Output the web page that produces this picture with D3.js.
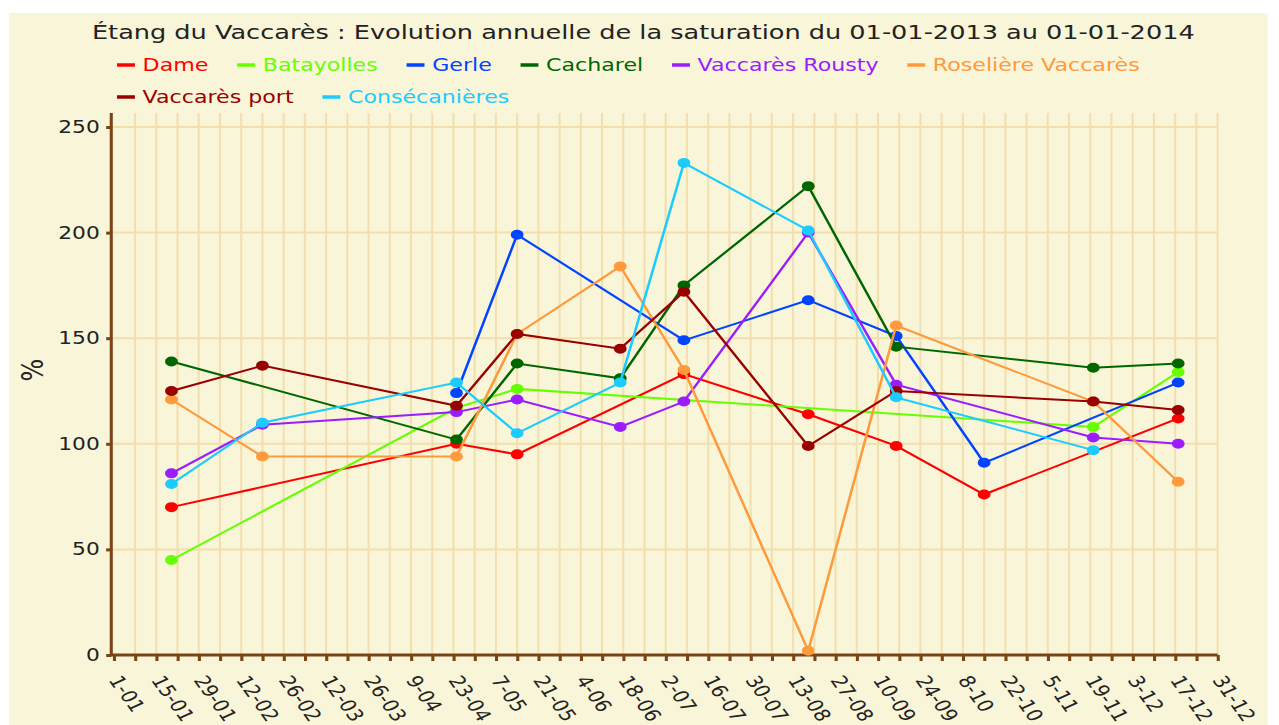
<!DOCTYPE html>
<html>
<head>
<meta charset="utf-8">
<script src="https://cdn.jsdelivr.net/npm/d3@7"></script>
<style>
    html, body { margin: 0; padding: 0; background: #ffffff; }
    svg { display: block; }
    text { font-family: "DejaVu Sans", Verdana, sans-serif; }
</style>
</head>
<body>
<div id="chart"></div>
<script>
'use strict';

// Measurement dates (2013) shared by all stations.
var dates = ['2013-01-20', '2013-02-19', '2013-04-24', '2013-05-14', '2013-06-17', '2013-07-08',
             '2013-08-18', '2013-09-16', '2013-10-15', '2013-11-20', '2013-12-18'];

// Saturation in %, null where a station has no measurement.
var dame          = [70,   null, 100, 95,   null, 133, 114, 99,  76,   null, 112];
var batayolles    = [45,   null, 117, 126,  null, null, null, null, null, 108, 134];
var gerle         = [null, null, 124, 199,  null, 149, 168, 151, 91,   null, 129];
var cacharel      = [139,  null, 102, 138,  131, 175, 222, 146, null, 136, 138];
var rousty        = [86,   109,  115, 121,  108, 120, 200, 128, null, 103, 100];
var roseliere     = [121,  94,   94,  152,  184, 135, 2,   156, null, 120, 82];
var vaccaresPort  = [125,  137,  118, 152,  145, 172, 99,  125, null, 120, 116];
var consecanieres = [81,   110,  129, 105,  129, 233, 201, 122, null, 97,  null];

var seriesNames  = ['Dame', 'Batayolles', 'Gerle', 'Cacharel', 'Vaccarès Rousty', 'Roselière Vaccarès', 'Vaccarès port', 'Consécanières'];
var seriesColors = ['#ff0000', '#66ff00', '#0044ff', '#006600', '#9a1cff', '#ff9a3c', '#990000', '#1ccbff'];
var seriesValues = [dame, batayolles, gerle, cacharel, rousty, roseliere, vaccaresPort, consecanieres];

var yTicks = [0, 50, 100, 150, 200, 250];
var xTickLabels = ['1-01', '15-01', '29-01', '12-02', '26-02', '12-03', '26-03', '9-04', '23-04', '7-05', '21-05',
                   '4-06', '18-06', '2-07', '16-07', '30-07', '13-08', '27-08', '10-09', '24-09', '8-10', '22-10',
                   '5-11', '19-11', '3-12', '17-12', '31-12'];

var title = 'Étang du Vaccarès : Evolution annuelle de la saturation du 01-01-2013 au 01-01-2014';

// The original chart was drawn 1000px wide and stretched to the page width.
var baseWidth = 1000,
    height    = 725,
    pageWidth = 1279,
    margin    = {top: 127, left: 89, right: 952, bottom: 655},
    axisColor = '#7a4416',
    gridColor = '#f3dfae';

var parse = d3.utcParse('%Y-%m-%d');
var start = parse('2013-01-01'),
    end   = parse('2013-12-31');

var svg = d3.select('#chart').append('svg')
    .attr('width', pageWidth)
    .attr('height', height)
    .attr('viewBox', '0 0 ' + baseWidth + ' ' + height)
    .attr('preserveAspectRatio', 'none');

svg.append('rect')
    .attr('x', 7)
    .attr('y', 13)
    .attr('width', 984)
    .attr('height', height - 13)
    .attr('fill', '#f8f5d8');

var x = d3.scaleUtc().domain([start, end]).range([margin.left, margin.right]);
var y = d3.scaleLinear().domain([0, 250]).range([margin.bottom, margin.top]);

var weeks = d3.range(0, 53).map(function (i) {
    return d3.utcDay.offset(start, i * 7);
});

// Grid.
var grid = svg.append('g').attr('class', 'grid');

grid.selectAll('.vgrid')
    .data(weeks.slice(1))
    .enter().append('line')
    .attr('x1', function (d) { return x(d); })
    .attr('x2', function (d) { return x(d); })
    .attr('y1', 113)
    .attr('y2', margin.bottom)
    .attr('stroke', gridColor)
    .attr('stroke-width', 1.6);

grid.selectAll('.hgrid')
    .data(yTicks.slice(1))
    .enter().append('line')
    .attr('x1', margin.left - 2)
    .attr('x2', margin.right)
    .attr('y1', function (d) { return y(d); })
    .attr('y2', function (d) { return y(d); })
    .attr('stroke', gridColor)
    .attr('stroke-width', 2);

// Y axis.
var yAxis = svg.append('g')
    .attr('transform', 'translate(' + (margin.left - 2) + ',0)')
    .call(d3.axisLeft(y).tickValues(yTicks).tickSize(4).tickPadding(5));

yAxis.select('.domain')
    .attr('d', 'M0,113V' + (margin.bottom + 1))
    .attr('stroke', axisColor)
    .attr('stroke-width', 2.4);

yAxis.selectAll('.tick line').attr('stroke', axisColor).attr('stroke-width', 3);
yAxis.selectAll('.tick text')
    .attr('fill', '#222')
    .style('font-size', '17px')
    .style('font-family', '"DejaVu Sans", Verdana, sans-serif');

// X axis.
var xAxis = svg.append('g')
    .attr('transform', 'translate(0,' + margin.bottom + ')')
    .call(d3.axisBottom(x).tickValues(weeks).tickSize(6).tickFormat(function (d, i) {
        return i % 2 === 0 ? xTickLabels[i / 2] : '';
    }));

xAxis.select('.domain')
    .attr('d', 'M' + (margin.left - 3) + ',0H' + margin.right)
    .attr('stroke', axisColor)
    .attr('stroke-width', 3);

xAxis.selectAll('.tick line').attr('stroke', axisColor).attr('stroke-width', 2.4);
xAxis.selectAll('.tick text')
    .attr('fill', '#222')
    .attr('text-anchor', 'start')
    .attr('y', 0)
    .attr('dy', 0)
    .attr('transform', 'translate(-5,25) rotate(60)')
    .style('font-size', '17px')
    .style('font-family', '"DejaVu Sans", Verdana, sans-serif');

svg.append('text')
    .attr('transform', 'translate(25,370) rotate(-90)')
    .attr('text-anchor', 'middle')
    .attr('dominant-baseline', 'central')
    .attr('fill', '#222')
    .style('font-size', '24px')
    .text('%');

// Series: line first, then dots.
var line = d3.line()
    .defined(function (d) { return d.value !== null; })
    .x(function (d) { return x(d.date); })
    .y(function (d) { return y(d.value); });

seriesValues.forEach(function (values, i) {
    var points = values.map(function (v, j) {
        return {date: parse(dates[j]), value: v};
    }).filter(function (d) {
        return d.value !== null;
    });

    var g = svg.append('g').attr('class', 'series');

    g.append('path')
        .datum(points)
        .attr('d', line)
        .attr('fill', 'none')
        .attr('stroke', seriesColors[i])
        .attr('stroke-width', 2);

    g.selectAll('circle')
        .data(points)
        .enter().append('circle')
        .attr('cx', function (d) { return x(d.date); })
        .attr('cy', function (d) { return y(d.value); })
        .attr('r', 5)
        .attr('fill', seriesColors[i]);
});

// Title.
svg.append('text')
    .attr('x', 503)
    .attr('y', 39)
    .attr('text-anchor', 'middle')
    .attr('fill', '#222')
    .style('font-size', '20px')
    .text(title);

// Legend, flowing onto a second row when the width runs out.
var legend = svg.append('g').attr('class', 'legend'),
    lx     = 91.5,
    ly     = 65;

seriesNames.forEach(function (name, i) {
    var item = legend.append('g');

    var label = item.append('text')
        .attr('x', 20)
        .attr('y', 0)
        .attr('dominant-baseline', 'central')
        .attr('fill', seriesColors[i])
        .style('font-size', '17.3px')
        .text(name);

    var w = 20 + label.node().getComputedTextLength();

    if (lx + w > 960) {
        lx = 91.5;
        ly += 32;
    }

    item.attr('transform', 'translate(' + lx + ',' + ly + ')');
    item.insert('line', 'text')
        .attr('x1', 0)
        .attr('x2', 14)
        .attr('y1', 0)
        .attr('y2', 0)
        .attr('stroke', seriesColors[i])
        .attr('stroke-width', 3.5);

    lx += w + 22.5;
});
</script>
</body>
</html>
